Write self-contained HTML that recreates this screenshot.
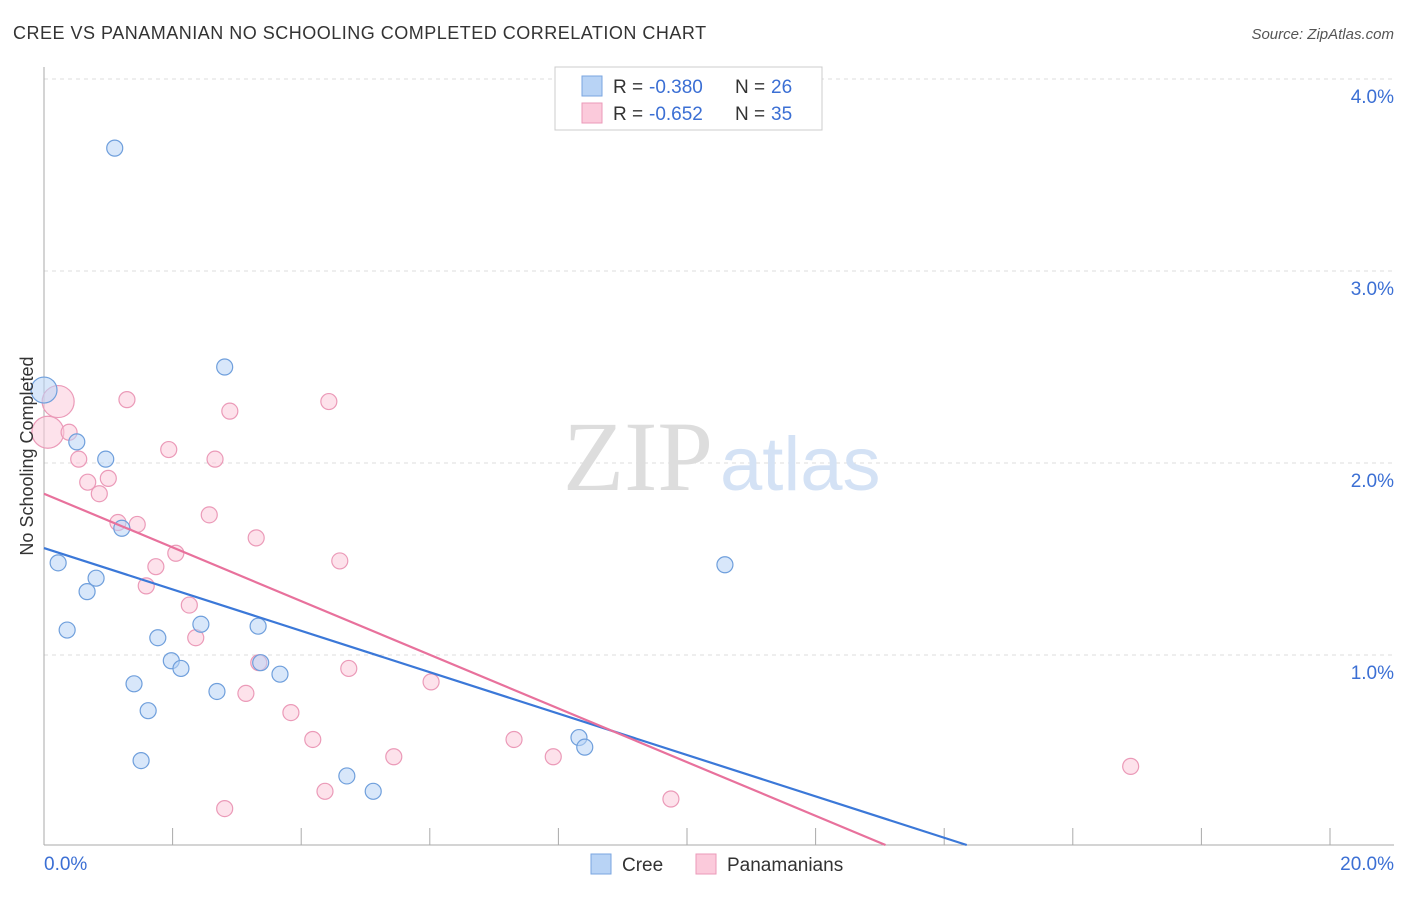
<!DOCTYPE html>
<html><head><meta charset="utf-8"><style>
body{margin:0;background:#fff;font-family:"Liberation Sans",sans-serif}
</style></head><body>
<svg width="1406" height="892" viewBox="0 0 1406 892">
<text x="13" y="39" font-size="18" fill="#333" letter-spacing="0.5">CREE VS PANAMANIAN NO SCHOOLING COMPLETED CORRELATION CHART</text>
<text x="1394" y="39" font-size="15" fill="#555" font-style="italic" text-anchor="end">Source: ZipAtlas.com</text>
<g id="grid"></g>
<text x="713" y="490" font-size="100" fill="#ddd" font-family="Liberation Serif" text-anchor="end">ZIP</text>
<text x="720" y="490" font-size="76" fill="#d4e2f5">atlas</text>
<g id="marks"></g>
<text x="33" y="456" font-size="18" fill="#333" text-anchor="middle" transform="rotate(-90 33 456)">No Schooling Completed</text>
<text x="44" y="870" font-size="19" fill="#3b6fd4">0.0%</text>
<text x="1394" y="870" font-size="19" fill="#3b6fd4" text-anchor="end">20.0%</text>
<g>
<rect x="555" y="67" width="267" height="63" fill="#fff" stroke="#ccc"/>
<rect x="582" y="76" width="20" height="20" fill="#b8d3f5" stroke="#7aa6e0"/>
<rect x="582" y="103" width="20" height="20" fill="#fbcadb" stroke="#eb9ab8"/>
<text x="613" y="93" font-size="19" fill="#333">R =</text>
<text x="649" y="93" font-size="19" fill="#3b6fd4">-0.380</text>
<text x="735" y="93" font-size="19" fill="#333">N =</text>
<text x="771" y="93" font-size="19" fill="#3b6fd4">26</text>
<text x="613" y="120" font-size="19" fill="#333">R =</text>
<text x="649" y="120" font-size="19" fill="#3b6fd4">-0.652</text>
<text x="735" y="120" font-size="19" fill="#333">N =</text>
<text x="771" y="120" font-size="19" fill="#3b6fd4">35</text>
</g>
<g>
<rect x="591" y="854" width="20" height="20" fill="#b8d3f5" stroke="#7aa6e0"/>
<text x="622" y="871" font-size="19" fill="#333">Cree</text>
<rect x="696" y="854" width="20" height="20" fill="#fbcadb" stroke="#eb9ab8"/>
<text x="727" y="871" font-size="19" fill="#333">Panamanians</text>
</g>
</svg>
<script>
const yTicks=[1,2,3,4];
const yTickLabels=["1.0%","2.0%","3.0%","4.0%"];
const xTicks=[2,4,6,8,10,12,14,16,18,20];
const creeX=[1.10,0.0,2.81,0.51,0.96,1.21,0.22,0.81,0.67,0.36,1.77,2.44,3.33,1.98,2.13,3.37,3.67,1.40,2.69,1.62,1.51,4.71,5.12,8.32,8.41,10.59];
const creeY=[3.64,2.38,2.50,2.11,2.02,1.66,1.48,1.40,1.33,1.13,1.09,1.16,1.15,0.97,0.93,0.96,0.90,0.85,0.81,0.71,0.45,0.37,0.29,0.57,0.52,1.47];
const panX=[0.06,0.22,1.29,4.43,2.89,0.39,1.94,0.54,2.66,1.00,0.68,0.86,2.57,1.15,1.45,3.30,2.05,4.60,1.74,1.59,2.26,2.36,3.34,4.74,6.02,3.14,3.84,4.18,7.31,5.44,7.92,4.37,9.75,2.81,16.9];
const panY=[2.16,2.32,2.33,2.32,2.27,2.16,2.07,2.02,2.02,1.92,1.90,1.84,1.73,1.69,1.68,1.61,1.53,1.49,1.46,1.36,1.26,1.09,0.96,0.93,0.86,0.80,0.70,0.56,0.56,0.47,0.47,0.29,0.25,0.20,0.42];
const creeTrend=[1.557,-0.1085];
const panTrend=[1.84,-0.1406];
const X=v=>44+v*64.3, Y=v=>847-v*192;
const NS="http://www.w3.org/2000/svg";
function mk(t,a,p){const e=document.createElementNS(NS,t);for(const k in a)e.setAttribute(k,a[k]);p.appendChild(e);return e;}
const g=document.getElementById('grid'), m=document.getElementById('marks');
yTicks.forEach((t,i)=>{
 const l=mk('line',{x1:44,x2:1394,y1:Y(t),y2:Y(t),stroke:'#ddd','stroke-dasharray':'4,4'},g);
 
 
 const tx=mk('text',{x:1394,y:Y(t)+24,'font-size':19,fill:'#3b6fd4','text-anchor':'end'},g);
 tx.textContent=yTickLabels[i];
 
 
});
const ax=mk('line',{x1:44,x2:44,y1:67,y2:845,stroke:'#aaa'},g);


const bx=mk('line',{x1:44,x2:1394,y1:845,y2:845,stroke:'#aaa'},g);


xTicks.forEach(t=>{
 const l=mk('line',{x1:X(t),x2:X(t),y1:828,y2:845,stroke:'#aaa'},g);
 
 
});
function pts(xs,ys,fill,stroke,name){
 xs.forEach((x,i)=>{
  const big=(x<0.3&&ys[i]>2.1);
  const c=mk('circle',{cx:X(x),cy:Y(ys[i]),r:big?(name==='cree-point'?13:16):8,fill:fill,'fill-opacity':0.55,stroke:stroke,'stroke-width':1.2},m);
  
  
 });
}
pts(panX,panY,'#fbcadb','#eb9ab8','panamanian-point');
pts(creeX,creeY,'#b8d3f5','#6f9fdc','cree-point');
function trend(tr,col,name){
 const x1=0,x2=-tr[0]/tr[1];
 const l=mk('line',{x1:X(x1),y1:Y(tr[0]),x2:X(x2),y2:Y(tr[0]+tr[1]*x2)-2,stroke:col,'stroke-width':2.2},m);
 
 
}
trend(creeTrend,'#3b78d8','cree-trend-line');
trend(panTrend,'#e8719c','panamanian-trend-line');
</script>
</body></html>
